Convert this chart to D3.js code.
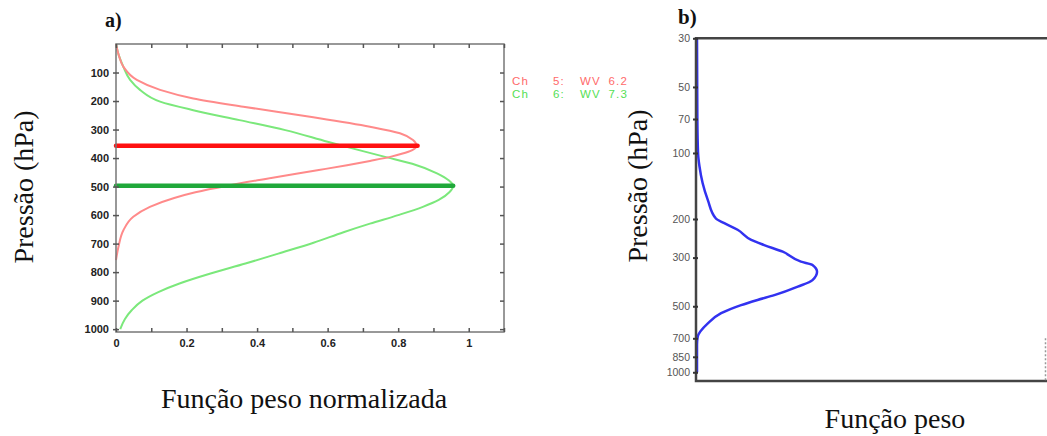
<!DOCTYPE html>
<html>
<head>
<meta charset="utf-8">
<script src="https://cdn.jsdelivr.net/npm/d3@7"></script>
<style>
body { margin: 0; background: #fff; }
svg { display: block; }
.serif { font-family: 'Liberation Serif', 'Times New Roman', serif; fill: #111; }
.tk-a { font-family: 'Liberation Sans', Arial, sans-serif; font-size: 11px; font-weight: bold; fill: #222; }
.tk-b { font-family: 'Liberation Sans', Arial, sans-serif; font-size: 10.5px; fill: #555; }
</style>
</head>
<body>
<div id="chart"></div>
<script>
'use strict';

// painel a) - funcoes peso normalizadas (pressao em hPa, peso 0..1)
let ch5Pressure = [0, 40, 80, 126, 161, 191, 220, 255, 290, 313, 337, 357, 372, 385, 395, 410, 425, 442, 470, 497, 520, 540, 571, 606, 653, 711, 758];
let ch5Weight   = [0, 0.008, 0.021, 0.059, 0.125, 0.219, 0.361, 0.550, 0.720, 0.805, 0.842, 0.852, 0.84, 0.81, 0.78, 0.72, 0.655, 0.575, 0.44, 0.315, 0.225, 0.165, 0.096, 0.049, 0.021, 0.007, 0];
let ch6Pressure = [0, 40, 80, 126, 161, 202, 232, 267, 302, 343, 366, 395, 420, 454, 480, 497, 520, 547, 571, 600, 630, 660, 697, 735, 770, 805, 840, 870, 900, 933, 965, 1000];
let ch6Weight   = [0, 0.008, 0.021, 0.040, 0.068, 0.125, 0.219, 0.35, 0.48, 0.60, 0.67, 0.76, 0.84, 0.91, 0.945, 0.956, 0.945, 0.915, 0.87, 0.80, 0.72, 0.645, 0.56, 0.46, 0.367, 0.268, 0.18, 0.12, 0.075, 0.045, 0.025, 0.012];
let peakLines = [
	{ch: 5, p: 357, w: 0.855},
	{ch: 6, p: 497, w: 0.956},
];
let legendLabels = ['Ch 5: WV 6.2', 'Ch 6: WV 7.3'];
let aPressureTicks = [100, 200, 300, 400, 500, 600, 700, 800, 900, 1000];
let aWeightTicks = [0, 0.2, 0.4, 0.6, 0.8, 1];
let aWeightMinor = [0, 0.1, 0.2, 0.3, 0.4, 0.5, 0.6, 0.7, 0.8, 0.9, 1, 1.1];

// painel b) - funcao peso (pressao em escala log)
let bPressure = [30, 70, 100, 115, 137, 164, 199, 209, 224, 249, 263, 282, 313, 324, 348, 380, 407, 445, 468, 494, 538, 598, 689, 750, 1000];
let bWeight   = [0, 0.001, 0.003, 0.007, 0.016, 0.031, 0.054, 0.078, 0.116, 0.155, 0.192, 0.245, 0.297, 0.330, 0.343, 0.330, 0.288, 0.221, 0.173, 0.126, 0.069, 0.031, 0.002, 0, 0];
let bPressureTicks = [30, 50, 70, 100, 200, 300, 500, 700, 850, 1000];

let W = 1047, H = 436;
let svg = d3.select('#chart')
	.append('svg')
		.attr('width', W)
		.attr('height', H)
	;
svg.append('rect').attr('width', W).attr('height', H).attr('fill', '#fff');

function zip(ps, ws) {
	return ps.map((p, i) => ({p: p, w: ws[i]}));
}

// ---------- painel a ----------
let ax = d3.scaleLinear().domain([0, 1.1]).range([116, 504]);
let ay = d3.scaleLinear().domain([0, 1010]).range([44, 332]);

let ga = svg.append('g');

let lineA = d3.line()
	.x(d => ax(d.w))
	.y(d => ay(d.p))
	.curve(d3.curveMonotoneY)
	;

ga.append('path')
	.datum(zip(ch6Pressure, ch6Weight))
	.attr('d', lineA)
	.attr('fill', 'none')
	.attr('stroke', '#7be87b')
	.attr('stroke-width', 2)
	;
ga.append('path')
	.datum(zip(ch5Pressure, ch5Weight))
	.attr('d', lineA)
	.attr('fill', 'none')
	.attr('stroke', '#ff8a8a')
	.attr('stroke-width', 2)
	;

let peakColor = {5: '#ff1010', 6: '#1fa83a'};
ga.selectAll('line.peak')
	.data(peakLines)
	.enter()
	.append('line')
		.classed('peak', true)
		.attr('x1', ax(0))
		.attr('x2', d => ax(d.w))
		.attr('y1', d => ay(d.p))
		.attr('y2', d => ay(d.p))
		.attr('stroke', d => peakColor[d.ch])
		.attr('stroke-width', 4.5)
		.attr('stroke-linecap', 'round')
	;

// moldura e ticks
ga.append('rect')
	.attr('x', ax(0))
	.attr('y', ay(0))
	.attr('width', ax(1.1) - ax(0))
	.attr('height', ay(1010) - ay(0))
	.attr('fill', 'none')
	.attr('stroke', '#777')
	.attr('stroke-width', 1.5)
	;

ga.append('g')
	.attr('transform', 'translate(0,' + ay(1010) + ')')
	.call(d3.axisBottom(ax).tickValues(aWeightMinor).tickSize(-4).tickFormat(''))
	.call(g => g.select('.domain').remove())
	.call(g => g.selectAll('line').attr('stroke', '#555').attr('stroke-width', 1.5))
	;
ga.append('g')
	.attr('transform', 'translate(0,' + ay(0) + ')')
	.call(d3.axisTop(ax).tickValues(aWeightMinor).tickSize(-4).tickFormat(''))
	.call(g => g.select('.domain').remove())
	.call(g => g.selectAll('line').attr('stroke', '#555').attr('stroke-width', 1.5))
	;
ga.append('g')
	.attr('transform', 'translate(0,' + ay(1010) + ')')
	.call(d3.axisBottom(ax).tickValues(aWeightTicks).tickSize(0).tickPadding(7).tickFormat(d3.format('')))
	.call(g => g.select('.domain').remove())
	.call(g => g.selectAll('text').attr('class', 'tk-a').attr('fill', null))
	;

ga.append('g')
	.attr('transform', 'translate(' + ax(0) + ',0)')
	.call(d3.axisLeft(ay).tickValues(aPressureTicks).tickSize(3).tickPadding(4).tickFormat(d3.format('d')))
	.call(g => g.select('.domain').remove())
	.call(g => g.selectAll('line').attr('stroke', '#555').attr('stroke-width', 1.5).attr('x2', 3).attr('x1', -3))
	.call(g => g.selectAll('text').attr('class', 'tk-a').attr('fill', null))
	;
ga.append('g')
	.attr('transform', 'translate(' + ax(1.1) + ',0)')
	.call(d3.axisRight(ay).tickValues(aPressureTicks).tickSize(-4).tickFormat(''))
	.call(g => g.select('.domain').remove())
	.call(g => g.selectAll('line').attr('stroke', '#555').attr('stroke-width', 1.5))
	;

// legenda: cada palavra numa coluna, como no original
let legendColor = ['#ff6a6a', '#55e055'];
let legendCols = [0, 41, 68, 96.5];
let leg = ga.selectAll('text.leg')
	.data(legendLabels)
	.enter()
	.append('text')
		.classed('leg', true)
		.attr('y', (d, i) => 85 + i * 13.3)
		.attr('font-family', "'Liberation Sans', Arial, sans-serif")
		.attr('font-size', 11.5)
		.attr('letter-spacing', 1.2)
		.attr('fill', (d, i) => legendColor[i])
	;
leg.selectAll('tspan')
	.data(d => d.split(' '))
	.enter()
	.append('tspan')
		.attr('x', (d, i) => 512 + legendCols[i])
		.text(d => d)
	;

// rotulos
svg.append('text')
	.attr('class', 'serif')
	.attr('x', 105)
	.attr('y', 27)
	.attr('font-size', 20)
	.attr('font-weight', 'bold')
	.attr('fill', '#333')
	.text('a)')
	;
svg.append('text')
	.attr('class', 'serif')
	.attr('transform', 'translate(33,187) rotate(-90)')
	.attr('text-anchor', 'middle')
	.attr('font-size', 28)
	.text('Pressão (hPa)')
	;
svg.append('text')
	.attr('class', 'serif')
	.attr('x', 304)
	.attr('y', 408)
	.attr('text-anchor', 'middle')
	.attr('font-size', 28)
	.text('Função peso normalizada')
	;

// ---------- painel b ----------
let bx = d3.scaleLinear().domain([0, 1]).range([696, 1046]);
let by = d3.scaleLog().domain([30, 1096]).range([38.3, 381]);

let gb = svg.append('g');

gb.append('path')
	.datum(zip(bPressure, bWeight))
	.attr('d', d3.line()
		.x(d => bx(d.w) + 1)
		.y(d => by(d.p))
		.curve(d3.curveMonotoneY))
	.attr('fill', 'none')
	.attr('stroke', '#3232f0')
	.attr('stroke-width', 2.5)
	;

gb.append('path')
	.attr('d', ['M', 1049, by(30), 'H', bx(0), 'V', by(1096), 'H', 1049].join(' '))
	.attr('fill', 'none')
	.attr('stroke', '#444')
	.attr('stroke-width', 2.5)
	;
gb.append('line')
	.attr('x1', 1045.5).attr('x2', 1045.5)
	.attr('y1', by(700)).attr('y2', by(1096))
	.attr('stroke', '#999')
	.attr('stroke-width', 1.5)
	.attr('stroke-dasharray', '2,2')
	;

gb.append('g')
	.attr('transform', 'translate(' + bx(0) + ',0)')
	.call(d3.axisLeft(by).tickValues(bPressureTicks).tickSize(3).tickPadding(3).tickFormat(d3.format('')))
	.call(g => g.select('.domain').remove())
	.call(g => g.selectAll('line').attr('stroke', '#333').attr('stroke-width', 2).attr('x1', -3).attr('x2', 2))
	.call(g => g.selectAll('text').attr('class', 'tk-b').attr('fill', null))
	;

svg.append('text')
	.attr('class', 'serif')
	.attr('x', 678)
	.attr('y', 24)
	.attr('font-size', 21)
	.attr('font-weight', 'bold')
	.attr('fill', '#333')
	.text('b)')
	;
svg.append('text')
	.attr('class', 'serif')
	.attr('transform', 'translate(647,186) rotate(-90)')
	.attr('text-anchor', 'middle')
	.attr('font-size', 28)
	.text('Pressão (hPa)')
	;
svg.append('text')
	.attr('class', 'serif')
	.attr('x', 895)
	.attr('y', 428)
	.attr('text-anchor', 'middle')
	.attr('font-size', 28)
	.text('Função peso')
	;
</script>
</body>
</html>
